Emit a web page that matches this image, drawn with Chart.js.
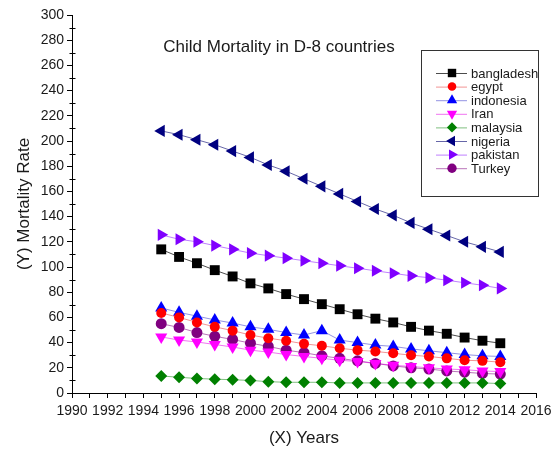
<!DOCTYPE html>
<html><head><meta charset="utf-8">
<script src="https://cdn.jsdelivr.net/npm/chart.js@4/dist/chart.umd.min.js"></script>
<style>html,body{margin:0;padding:0;background:#fff;}#wrap{width:558px;height:450px;}</style>
</head><body><div id="wrap"><canvas id="c" width="558" height="450"></canvas></div>
<script>
const years = [1995,1996,1997,1998,1999,2000,2001,2002,2003,2004,2005,2006,2007,2008,2009,2010,2011,2012,2013,2014];
const bangladesh = [114,108,103,97.5,92.5,87,83,78.5,74.5,70.5,66.5,62.5,59,56,52.5,49.5,47,44,41.5,39.5];
const egypt = [63.5,60,56,52.5,49.5,46,43.5,41.5,39,37.5,35.5,34,33,31.5,30,29,27.5,26,25.5,24.5];
const indonesia = [67.5,64,61,58,55.5,52.5,50.5,48,46,49.5,42,40,38,37,35,33.5,32,30.5,29.5,29];
const iran = [44.5,42,40.5,38.5,36.5,34,32.5,30.5,29,27.5,26,25,23.5,22,21,20,19,18.5,17.5,17];
const malaysia = [13.5,12.5,11.5,11,10.5,10,9,8.5,8.5,8.5,8,8,8,8,8,8,8,8,8,7.5];
const nigeria = [208,205,201,197,192,187,181,176,170,164,158,152,146,141,135,130,125,120,116,112];
const pakistan = [125.5,122,120,117,114,111,109,107,105,103,101,99,97,95,93,91.5,89.5,87.5,85.5,83];
const turkey = [55,52,48,45,42.5,39.5,37,34,32,29.5,27.5,25.5,23.5,21.5,20,19,17.5,16.5,15.5,15];
const seriesNames = ['bangladesh','egypt','indonesia','Iran','malaysia','nigeria','pakistan','Turkey'];
const seriesValues = [bangladesh,egypt,indonesia,iran,malaysia,nigeria,pakistan,turkey];
const xTicks = {min:1990,max:2016,step:2,minor:1};
const yTicks = {min:0,max:300,step:20,minor:10};
const chartTitle = 'Child Mortality in D-8 countries';

const styles = [
  {c:'#000000', line:'rgba(0,0,0,0.7)', ps:'rect', r:7, rot:0},
  {c:'#ff0000', line:'rgba(230,60,60,0.55)', ps:'circle', r:5, rot:0},
  {c:'#0000ff', line:'rgba(40,40,200,0.5)', ps:'triangle', r:7, rot:0},
  {c:'#ff00ff', line:'rgba(230,0,230,0.55)', ps:'triangle', r:7, rot:180},
  {c:'#008000', line:'rgba(0,128,0,0.5)', ps:'rectRot', r:6, rot:0},
  {c:'#000080', line:'rgba(0,0,110,0.6)', ps:'triangle', r:7, rot:-90},
  {c:'#8000ff', line:'rgba(128,0,255,0.5)', ps:'triangle', r:7, rot:90},
  {c:'#800080', line:'rgba(128,0,128,0.55)', ps:'circle', r:5.5, rot:0}
];

const datasets = seriesNames.map((n,i)=>({
  label:n,
  data: years.map((y,j)=>({x:y,y:seriesValues[i][j]})),
  borderColor: styles[i].line,
  backgroundColor: styles[i].c,
  pointBackgroundColor: styles[i].c,
  pointBorderColor: styles[i].c,
  pointBorderWidth: 0,
  borderWidth: 1,
  pointStyle: styles[i].ps,
  pointRadius: styles[i].r,
  pointHoverRadius: styles[i].r,
  pointRotation: styles[i].rot,
  tension: 0
}));

const FONT = "'Liberation Sans', Arial, sans-serif";

const overlay = {
  id:'overlay',
  afterDraw(chart){
    const ctx = chart.ctx;
    const ys = chart.scales.y;
    ctx.save();
    // y minor ticks (short, straddling axis)
    ctx.strokeStyle = '#000'; ctx.lineWidth = 1;
    const ax = Math.round(ys.right) + 0.5;
    for (let v = yTicks.min; v <= yTicks.max; v += yTicks.minor) {
      if ((v - yTicks.min) % yTicks.step === 0) continue;
      const py = Math.round(ys.getPixelForValue(v)) + 0.5;
      ctx.beginPath(); ctx.moveTo(ax - 3, py); ctx.lineTo(ax + 3, py); ctx.stroke();
    }
    ctx.fillStyle = '#1a1a1a';
    ctx.font = '17px ' + FONT;
    ctx.textAlign = 'center';
    ctx.textBaseline = 'middle';
    ctx.fillText(chartTitle, 279, 47);
    // legend box
    const bx=421, by=50, bw=117, bh=146;
    ctx.strokeStyle = '#333';
    ctx.lineWidth = 1;
    ctx.strokeRect(bx+0.5, by+0.5, bw, bh);
    ctx.font = '13px ' + FONT;
    ctx.textAlign = 'left';
    chart.data.datasets.forEach((ds,i)=>{
      const y = 73 + i*13.6;
      ctx.strokeStyle = ds.borderColor;
      ctx.lineWidth = 1;
      ctx.beginPath(); ctx.moveTo(436,y+0.5); ctx.lineTo(467,y+0.5); ctx.stroke();
      ctx.fillStyle = ds.pointBackgroundColor;
      ctx.strokeStyle = ds.pointBorderColor;
      Chart.helpers.drawPoint(ctx, {pointStyle:ds.pointStyle, rotation:ds.pointRotation, radius:ds.pointRadius*0.85, borderWidth:0}, 452, y);
      ctx.fillStyle = '#1a1a1a';
      ctx.fillText(ds.label, 471, y+1);
    });
    ctx.restore();
  }
};

new Chart(document.getElementById('c'), {
  type:'line',
  data:{datasets},
  options:{
    responsive:false,
    animation:false,
    layout:{padding:{left:0,right:22,top:15,bottom:0}},
    plugins:{legend:{display:false},tooltip:{enabled:false}},
    scales:{
      x:{
        type:'linear', min:xTicks.min, max:xTicks.max,
        afterFit(s){ s.height = 57; },
        border:{display:true,color:'#000',width:1},
        grid:{drawOnChartArea:false, drawTicks:true, tickLength:5, tickColor:'#000'},
        ticks:{stepSize:xTicks.minor, autoSkip:false, maxRotation:0, color:'#1a1a1a', font:{family:FONT,size:14}, padding:5,
          callback:(v)=> (v - xTicks.min) % xTicks.step === 0 ? String(v) : ''},
        title:{display:true, text:'(X) Years', color:'#1a1a1a', font:{family:FONT,size:17}, padding:{top:0,bottom:1}}
      },
      y:{
        min:yTicks.min, max:yTicks.max,
        afterFit(s){ s.width = 72; },
        border:{display:true,color:'#000',width:1},
        grid:{drawOnChartArea:false, drawTicks:true, tickLength:5,
          tickColor:(c)=> (c.tick && c.tick.value % yTicks.step === 0) ? '#000' : 'rgba(0,0,0,0)'},
        ticks:{stepSize:yTicks.minor, autoSkip:false, color:'#1a1a1a', font:{family:FONT,size:14}, padding:3,
          callback:(v)=> v % yTicks.step === 0 ? String(v) : ''},
        title:{display:true, text:'(Y) Mortality Rate', color:'#1a1a1a', font:{family:FONT,size:17}, padding:{top:14,bottom:0}}
      }
    }
  },
  plugins:[overlay]
});
</script></body></html>
